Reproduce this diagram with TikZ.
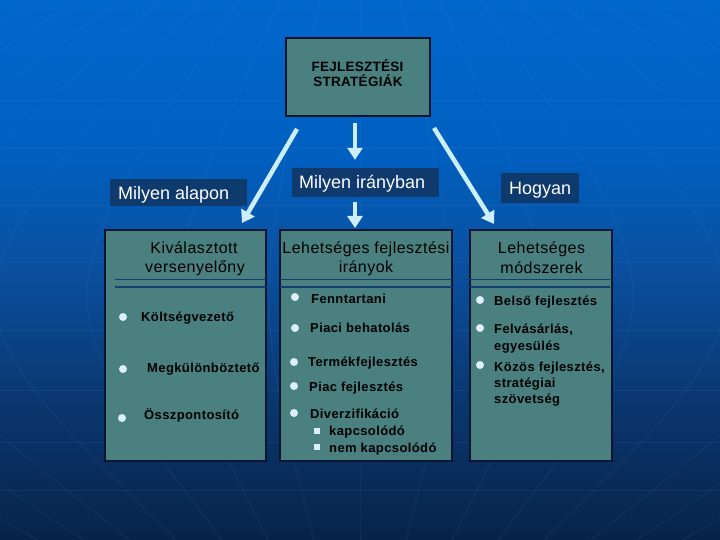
\documentclass[tikz,border=0pt]{standalone}
\usepackage{fontspec}
\setmainfont{Liberation Sans}
\newfontfamily\itemf{Liberation Sans}[LetterSpace=3]
\newfontfamily\headf{Liberation Sans}[LetterSpace=3]
\newfontfamily\titf{Liberation Sans}[LetterSpace=2]
\usetikzlibrary{arrows.meta,calc}
\definecolor{bgA}{HTML}{08234A}
\definecolor{bgB}{HTML}{0A3770}
\definecolor{bgC}{HTML}{0A4F9E}
\definecolor{bgD}{HTML}{0060C0}
\definecolor{bgE}{HTML}{0067CC}
\definecolor{boxfill}{HTML}{4A8080}
\definecolor{boxborder}{HTML}{0A1630}
\definecolor{labfill}{HTML}{0E3A6E}
\definecolor{arrowc}{HTML}{CCEEFF}
\definecolor{bulletc}{HTML}{DDEEFF}
\definecolor{sepc}{HTML}{123F72}
\definecolor{gridc}{HTML}{6FA8E8}
\pgfdeclareverticalshading{bgshade}{100bp}{color(0bp)=(bgA); color(25bp)=(bgA); color(38bp)=(bgB); color(50bp)=(bgC); color(61bp)=(bgD); color(75bp)=(bgE); color(100bp)=(bgE)}
\begin{document}
\begin{tikzpicture}[x=1pt,y=-1pt,
  box/.style={draw=boxborder, line width=2pt, fill=boxfill, rectangle, inner sep=0pt},
  lab/.style={fill=labfill, rectangle, inner sep=0pt},
  labtext/.style={anchor=base west, inner sep=0pt, text=white, font=\fontsize{18}{20}\selectfont},
  headtext/.style={anchor=base, inner sep=0pt, text=black, font=\headf\fontsize{16}{19}\selectfont},
  tittext/.style={anchor=base, inner sep=0pt, text=black, font=\titf\bfseries\fontsize{13.5}{16}\selectfont},
  item/.style={anchor=base west, inner sep=0pt, text=black, font=\itemf\bfseries\fontsize{13}{15}\selectfont},
  dot/.style={circle, fill=bulletc, inner sep=0pt, minimum size=8pt},
  sq/.style={rectangle, fill=bulletc, inner sep=0pt, minimum size=6.5pt},
  arr/.style={draw=arrowc, line width=4.5pt, -{Triangle[width=15pt,length=12pt]}},
  septhin/.style={draw=sepc, line width=1pt},
  septhick/.style={draw=sepc, line width=2.5pt},
  gridline/.style={draw=gridc, line width=0.8pt, opacity=0.1}
]
\useasboundingbox (0,0) rectangle (720,540);
\fill[shading=bgshade] (0,0) rectangle (720,540);
% faint background grid
\foreach \k in {-8,...,8}
  \draw[gridline] (360+40*\k,0) .. controls (360+107*\k,300) .. (360+46*\k,540);
\foreach \yy in {100,147,205,262,330,390,442,490}
  \draw[gridline] (0,\yy) -- (720,\yy);

% top box
\node[box, minimum width=144pt, minimum height=78pt] (top) at (358,77) {};
\node[tittext] (t1) at (357.5,72) {FEJLESZTÉSI};
\node[tittext] (t2) at (358,87) {STRATÉGIÁK};

% label boxes
\node[lab, minimum width=137pt, minimum height=27pt] (alapon) at (178.5,192.5) {};
\node[labtext] (alaponT) at (118,200) {Milyen alapon};
\node[lab, minimum width=147pt, minimum height=29pt] (iranyban) at (365.5,182.5) {};
\node[labtext] (iranybanT) at (299,189) {Milyen irányban};
\node[lab, minimum width=78pt, minimum height=30pt] (hogyan) at (540,188) {};
\node[labtext] (hogyanT) at (509,195) {Hogyan};

% main boxes
\node[box, minimum width=161pt, minimum height=231pt] (boxL) at (185.5,345.5) {};
\node[box, minimum width=172pt, minimum height=231pt] (boxM) at (366,345.5) {};
\node[box, minimum width=142pt, minimum height=231pt] (boxR) at (541,345.5) {};

% arrows
\path (top.south) ++(-3,0) coordinate (ax);
\draw[arr] ([shift={(12,12)}]top.south west) -- ([shift={(-25,-6)}]boxL.north east);
\draw[arr] ([shift={(0,6)}]ax) -- ($(ax |- iranyban.north)+(0,-8)$);
\draw[arr] ($(ax |- iranyban.south)+(0,5)$) -- ($(ax |- boxM.north)+(0,-1)$);
\draw[arr] ([shift={(3,11)}]top.south east) -- ([shift={(25,-5)}]boxR.north west);

% headers
\node[headtext] (hL1) at (194,253) {Kiválasztott};
\node[headtext] (hL2) at (195,272) {versenyelőny};
\node[headtext] (hM1) at (366,253) {Lehetséges fejlesztési};
\node[headtext] (hM2) at (366,272) {irányok};
\node[headtext] (hR1) at (541.5,254) {Lehetséges};
\node[headtext] (hR2) at (541.5,273) {módszerek};

% separators
\draw[septhin] (115,279) -- (266,279);
\draw[septhick] (115,287) -- (266,287);
\draw[septhin] (280,279) -- (452,279);
\draw[septhick] (280,287) -- (452,287);
\draw[septhin] (462,279) -- (610,279);
\draw[septhick] (470,287) -- (610,287);

% left items
\node[dot] (bL1) at (123,317) {};
\node[item] (iL1) at (141,321) {Költségvezető};
\node[dot] (bL2) at (123,369) {};
\node[item] (iL2) at (147,372) {Megkülönböztető};
\node[dot] (bL3) at (122,418) {};
\node[item] (iL3) at (144,419) {Összpontosító};

% middle items
\node[dot] (bM1) at (295,297) {};
\node[item] (iM1) at (311,303) {Fenntartani};
\node[dot] (bM2) at (295,328) {};
\node[item] (iM2) at (310,332) {Piaci behatolás};
\node[dot] (bM3) at (294,362) {};
\node[item] (iM3) at (308,366) {Termékfejlesztés};
\node[dot] (bM4) at (294,386) {};
\node[item] (iM4) at (309,391) {Piac fejlesztés};
\node[dot] (bM5) at (294,413) {};
\node[item] (iM5) at (310,418) {Diverzifikáció};
\node[sq] (sM1) at (317,431) {};
\node[item] (iM6) at (329,435) {kapcsolódó};
\node[sq] (sM2) at (317,447) {};
\node[item] (iM7) at (329,452) {nem kapcsolódó};

% right items
\node[dot] (bR1) at (480,300) {};
\node[item] (iR1) at (494,305) {Belső fejlesztés};
\node[dot] (bR2) at (480,328) {};
\node[item] (iR2) at (494,333) {Felvásárlás,};
\node[item] (iR3) at (494,350) {egyesülés};
\node[dot] (bR3) at (480,365) {};
\node[item] (iR4) at (494,371) {Közös fejlesztés,};
\node[item] (iR5) at (494,387) {stratégiai};
\node[item] (iR6) at (494,403) {szövetség};
\end{tikzpicture}
\end{document}
